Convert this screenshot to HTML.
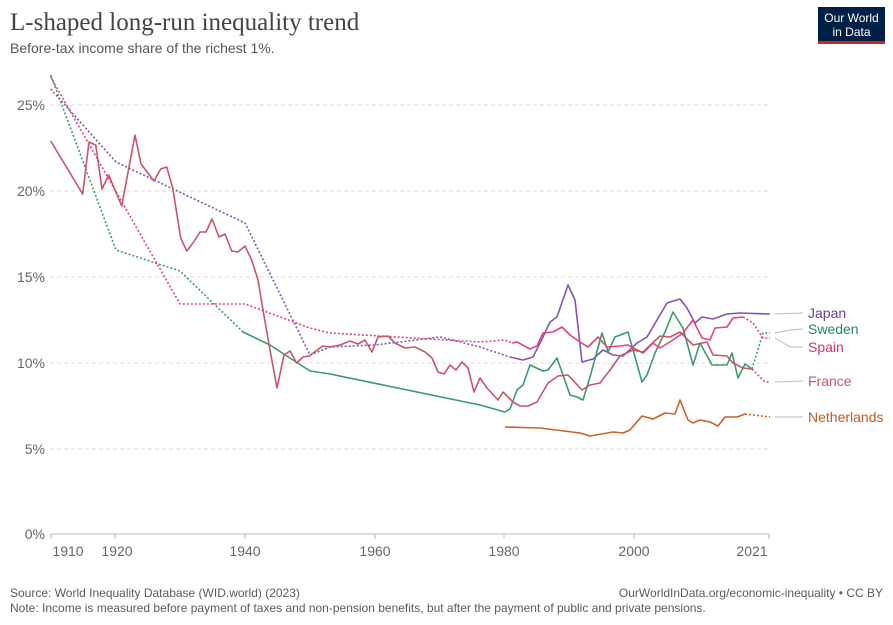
<!DOCTYPE html>
<html><head><meta charset="utf-8"><style>
body{margin:0;background:#fff;width:893px;height:625px;overflow:hidden;font-family:"Liberation Sans",sans-serif}
</style></head><body>
<svg width="893" height="625" xmlns="http://www.w3.org/2000/svg" style="position:absolute;left:0;top:0">
<text x="10" y="30" font-family="Liberation Serif,serif" font-size="25" fill="#444">L-shaped long-run inequality trend</text>
<text x="10" y="53" font-size="14" fill="#555">Before-tax income share of the richest 1%.</text>
<rect x="818" y="7" width="67" height="37" fill="#002147"/>
<rect x="818" y="41" width="67" height="3" fill="#ce261e"/>
<text x="851.5" y="22" font-size="12" fill="#fff" text-anchor="middle">Our World</text>
<text x="851.5" y="36" font-size="12" fill="#fff" text-anchor="middle">in Data</text>
<g stroke="#ddd" stroke-dasharray="4,3" stroke-width="1">
<line x1="50" x2="769" y1="449" y2="449"/><line x1="50" x2="769" y1="363" y2="363"/><line x1="50" x2="769" y1="277" y2="277"/><line x1="50" x2="769" y1="191" y2="191"/><line x1="50" x2="769" y1="105" y2="105"/>
</g>
<line x1="50" x2="769" y1="534" y2="534" stroke="#bbb"/>
<g stroke="#bbb"><line x1="51" x2="51" y1="534" y2="539"/><line x1="115" x2="115" y1="534" y2="539"/><line x1="245" x2="245" y1="534" y2="539"/><line x1="375" x2="375" y1="534" y2="539"/><line x1="504" x2="504" y1="534" y2="539"/><line x1="634" x2="634" y1="534" y2="539"/><line x1="769" x2="769" y1="534" y2="539"/></g>
<g font-size="14" fill="#666" text-anchor="end">
<text x="45" y="539">0%</text><text x="45" y="454">5%</text><text x="45" y="368">10%</text><text x="45" y="282">15%</text><text x="45" y="196">20%</text><text x="45" y="110">25%</text>
</g>
<g font-size="14" fill="#666" text-anchor="middle">
<text x="68" y="556">1910</text><text x="117" y="556">1920</text><text x="245" y="556">1940</text><text x="375" y="556">1960</text><text x="504" y="556">1980</text><text x="634" y="556">2000</text><text x="752" y="556">2021</text>
</g>
<g fill="none" stroke-width="1.6" stroke-linejoin="round">
<!-- Japan -->
<polyline stroke="#8255b5" stroke-dasharray="2,2" points="50.7,89 116,162 245,223 310,355 330,347 375,345 440,337 480,347 510,357"/>
<polyline stroke="#8255b5" points="510,357 523,360 533,357 543,337 550,322 557,317 568,285 575,300 582,362 593,359 603,350 613,355 623,356 637,343 647,337 657,320 667,303 680,299 687,308 695,323 702,317 713,319 727,314 740,313 770,314"/>
<!-- Sweden -->
<polyline stroke="#3a9a6e" stroke-dasharray="2,2" points="50.7,75 116,250 180,271 243,332"/>
<polyline stroke="#3a9a6e" points="243,332 270,345 310,371 330,374 480,405 505,412 510,409 517,390 523,385 530,365 543,371 548,370 557,358 570,395 577,397 583,400 590,377 602,333 608,352 615,337 628,332 642,382 647,375 655,353 665,332 673,312 683,328 693,365 700,343 712,365 727,365 732,353 738,378 745,364 752,369"/>
<polyline stroke="#3a9a6e" stroke-dasharray="2,2" points="752,369 763,333 770,333"/>
<!-- Spain -->
<polyline stroke="#e0457b" stroke-dasharray="2,2" points="50.7,77 180,304 245,304 310,328 330,333 480,342 505,340 512,343"/>
<polyline stroke="#e0457b" points="512,343 517,342 530,349 537,346 543,333 553,332 562,327 570,335 580,342 588,347 598,337 607,347 620,346 628,345 643,353 653,343 660,348 673,340 683,333 693,320 702,338 710,340 715,328 727,327 733,318 743,317"/>
<polyline stroke="#e0457b" stroke-dasharray="2,2" points="743,317 753,323 763,338 770,338"/>
<!-- France -->
<polyline stroke="#c8566a" points="50.7,141 82.7,194 89,142 95.7,145 102,189 108.7,175 121.7,206 135,135 141,164 154,181 160.7,169 166.7,167 172.7,188 180.7,238 186.7,251 193,243 200,232 206,232 212,219 219,237 225,234 231.7,251 238,252 245,246 251.7,260 258,280 263,310 270,350 277,388 284,355 290,351 296.7,363 303,357 309,356 322.7,346 330,347 340,345 350,341 358,344 365,340 372,352 378,337 388,336 395,343 405,348 415,347 425,352 432,358 438,372 444,374 450,365 456,370 462,362 468,368 474,392 480,378 487,388 498,400 503,392 513,402 520,406 528,406 537,402 548,383 558,376 568,375 582,390 590,385 600,383 610,370 620,356 633,350 643,352 660,336 670,337 680,332 693,345 707,342 713,355 727,356 733,363 743,368 752,369"/>
<polyline stroke="#c8566a" stroke-dasharray="2,2" points="752,369 765,382 770,382"/>
<!-- Netherlands -->
<polyline stroke="#c8622a" points="505,427 540,428 580,433 590,436 613,432 623,433 630,430 642,416 653,419 665,413 675,414 680,400 688,420 693,423 700,420 710,422 718,426 725,417 737,417 745,414"/>
<polyline stroke="#c8622a" stroke-dasharray="2,2" points="745,414 770,417"/>
</g>
<g stroke="#bbb" fill="none">
<polyline points="775,314 803,313"/><polyline points="775,333 790,330 803,329"/><polyline points="775,338 790,347 803,347"/><polyline points="775,382 803,381"/><polyline points="775,417 803,417"/>
</g>
<g font-size="14">
<text x="808" y="318" fill="#6d3e99">Japan</text>
<text x="808" y="334" fill="#2c8465">Sweden</text>
<text x="808" y="352" fill="#d6336c">Spain</text>
<text x="808" y="386" fill="#c8566a">France</text>
<text x="808" y="422" fill="#c15b27">Netherlands</text>
</g>
<text x="10" y="597" font-size="12" fill="#5b5b5b">Source: World Inequality Database (WID.world) (2023)</text>
<text x="883" y="597" font-size="12" fill="#5b5b5b" text-anchor="end">OurWorldInData.org/economic-inequality • CC BY</text>
<text x="10" y="612" font-size="12" fill="#5b5b5b">Note: Income is measured before payment of taxes and non-pension benefits, but after the payment of public and private pensions.</text>
</svg>
</body></html>
